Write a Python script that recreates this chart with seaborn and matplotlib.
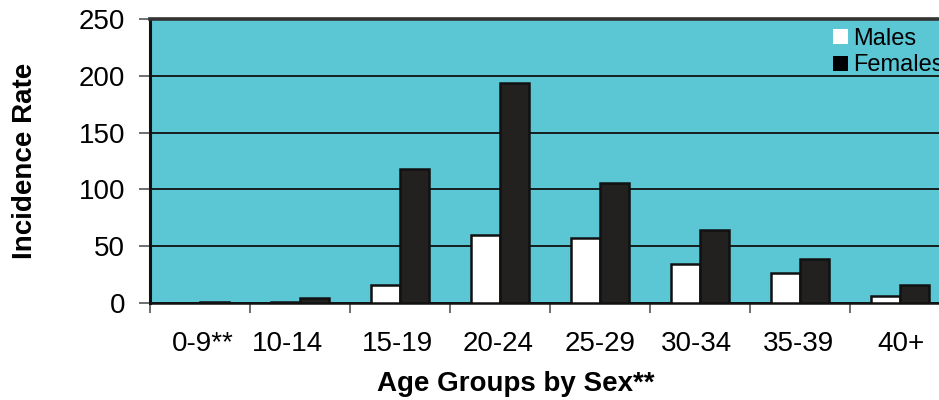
import matplotlib
matplotlib.use("Agg")
import matplotlib.pyplot as plt
from matplotlib.patches import Patch
import numpy as np
import pandas as pd
import seaborn as sns

# Incidence rate by age group and sex
age_groups = ["0-9**", "10-14", "15-19", "20-24", "25-29", "30-34", "35-39", "40+"]
males = [0, 0.5, 16, 60, 57, 34, 26, 6]
females = [1, 4, 118, 194, 106, 64, 39, 16]
sexes = ["Males", "Females"]
y_ticks = [0, 50, 100, 150, 200, 250]

df = pd.DataFrame({
    "age": age_groups * 2,
    "rate": males + females,
    "sex": ["Males"] * len(age_groups) + ["Females"] * len(age_groups),
})

sns.set_theme(style="white")
plt.rcParams["font.family"] = ["Liberation Sans", "DejaVu Sans"]
plt.rcParams["text.color"] = "black"
plt.rcParams["xtick.color"] = "black"
plt.rcParams["ytick.color"] = "black"
plt.rcParams["axes.labelcolor"] = "black"

W, H = 939, 400
fig = plt.figure(figsize=(W / 100, H / 100), dpi=100)
# plot area runs from x=150 px to past the right edge of the figure
ax = fig.add_axes([150 / W, (H - 303) / H, 800 / W, (303 - 19) / H])

bar_colors = {"Males": "white", "Females": "#231f20"}
ax.set_facecolor("#5bc6d4")
ax.set_axisbelow(True)
ax.yaxis.grid(True, color="#111111", linewidth=1.3)

sns.barplot(data=df, x="age", y="rate", hue="sex", order=age_groups,
            hue_order=sexes, palette=bar_colors, edgecolor="#111111",
            linewidth=1.8, width=0.58, legend=False, ax=ax, zorder=3)

ax.set_xlim(-0.5, len(age_groups) - 0.5)
ax.set_ylim(0, 250)
ax.set_yticks(y_ticks)
ax.tick_params(axis="y", which="major", direction="out", length=8, width=1.2,
               color="#555555", labelcolor="black", labelsize=20, pad=10, left=True)

# category labels centred under each group, tick marks on group boundaries
label_pos = [0.03, 0.87, 1.98, 2.98, 4.0, 4.97, 5.99, 7.01]
ax.set_xticks(label_pos)
ax.set_xticklabels(age_groups)
ax.set_xticks(np.arange(len(age_groups)) - 0.5, minor=True)
ax.tick_params(axis="x", which="major", length=0, labelsize=20, pad=20,
               labelcolor="black", bottom=True)
ax.tick_params(axis="x", which="minor", direction="out", length=7, width=1.2,
               color="#555555", bottom=True)

for side in ["left", "bottom"]:
    ax.spines[side].set_color("#111111")
ax.spines["left"].set_linewidth(2.2)
ax.spines["bottom"].set_linewidth(1.8)
ax.spines["top"].set_color("#333333")
ax.spines["top"].set_linewidth(2.6)
ax.spines["right"].set_visible(False)

ax.set_xlabel("Age Groups by Sex**", fontsize=20, fontweight="bold", color="black")
ax.xaxis.set_label_coords((516 - 150) / 800, -0.24)
ax.xaxis.label.set_va("top")
ax.set_ylabel("Incidence Rate", fontsize=20, fontweight="bold", color="black")
ax.yaxis.set_label_coords(-0.14, 0.5)

handles = [Patch(facecolor=c, edgecolor="none") for c in ["white", "black"]]
fig.legend(handles, sexes, loc="upper left", bbox_to_anchor=(0.870, 0.972),
           frameon=False, fontsize=17, handlelength=0.6, handleheight=0.6,
           handletextpad=0.25, labelspacing=0.2, borderpad=0.2)

fig.savefig("out.png", dpi=100)
